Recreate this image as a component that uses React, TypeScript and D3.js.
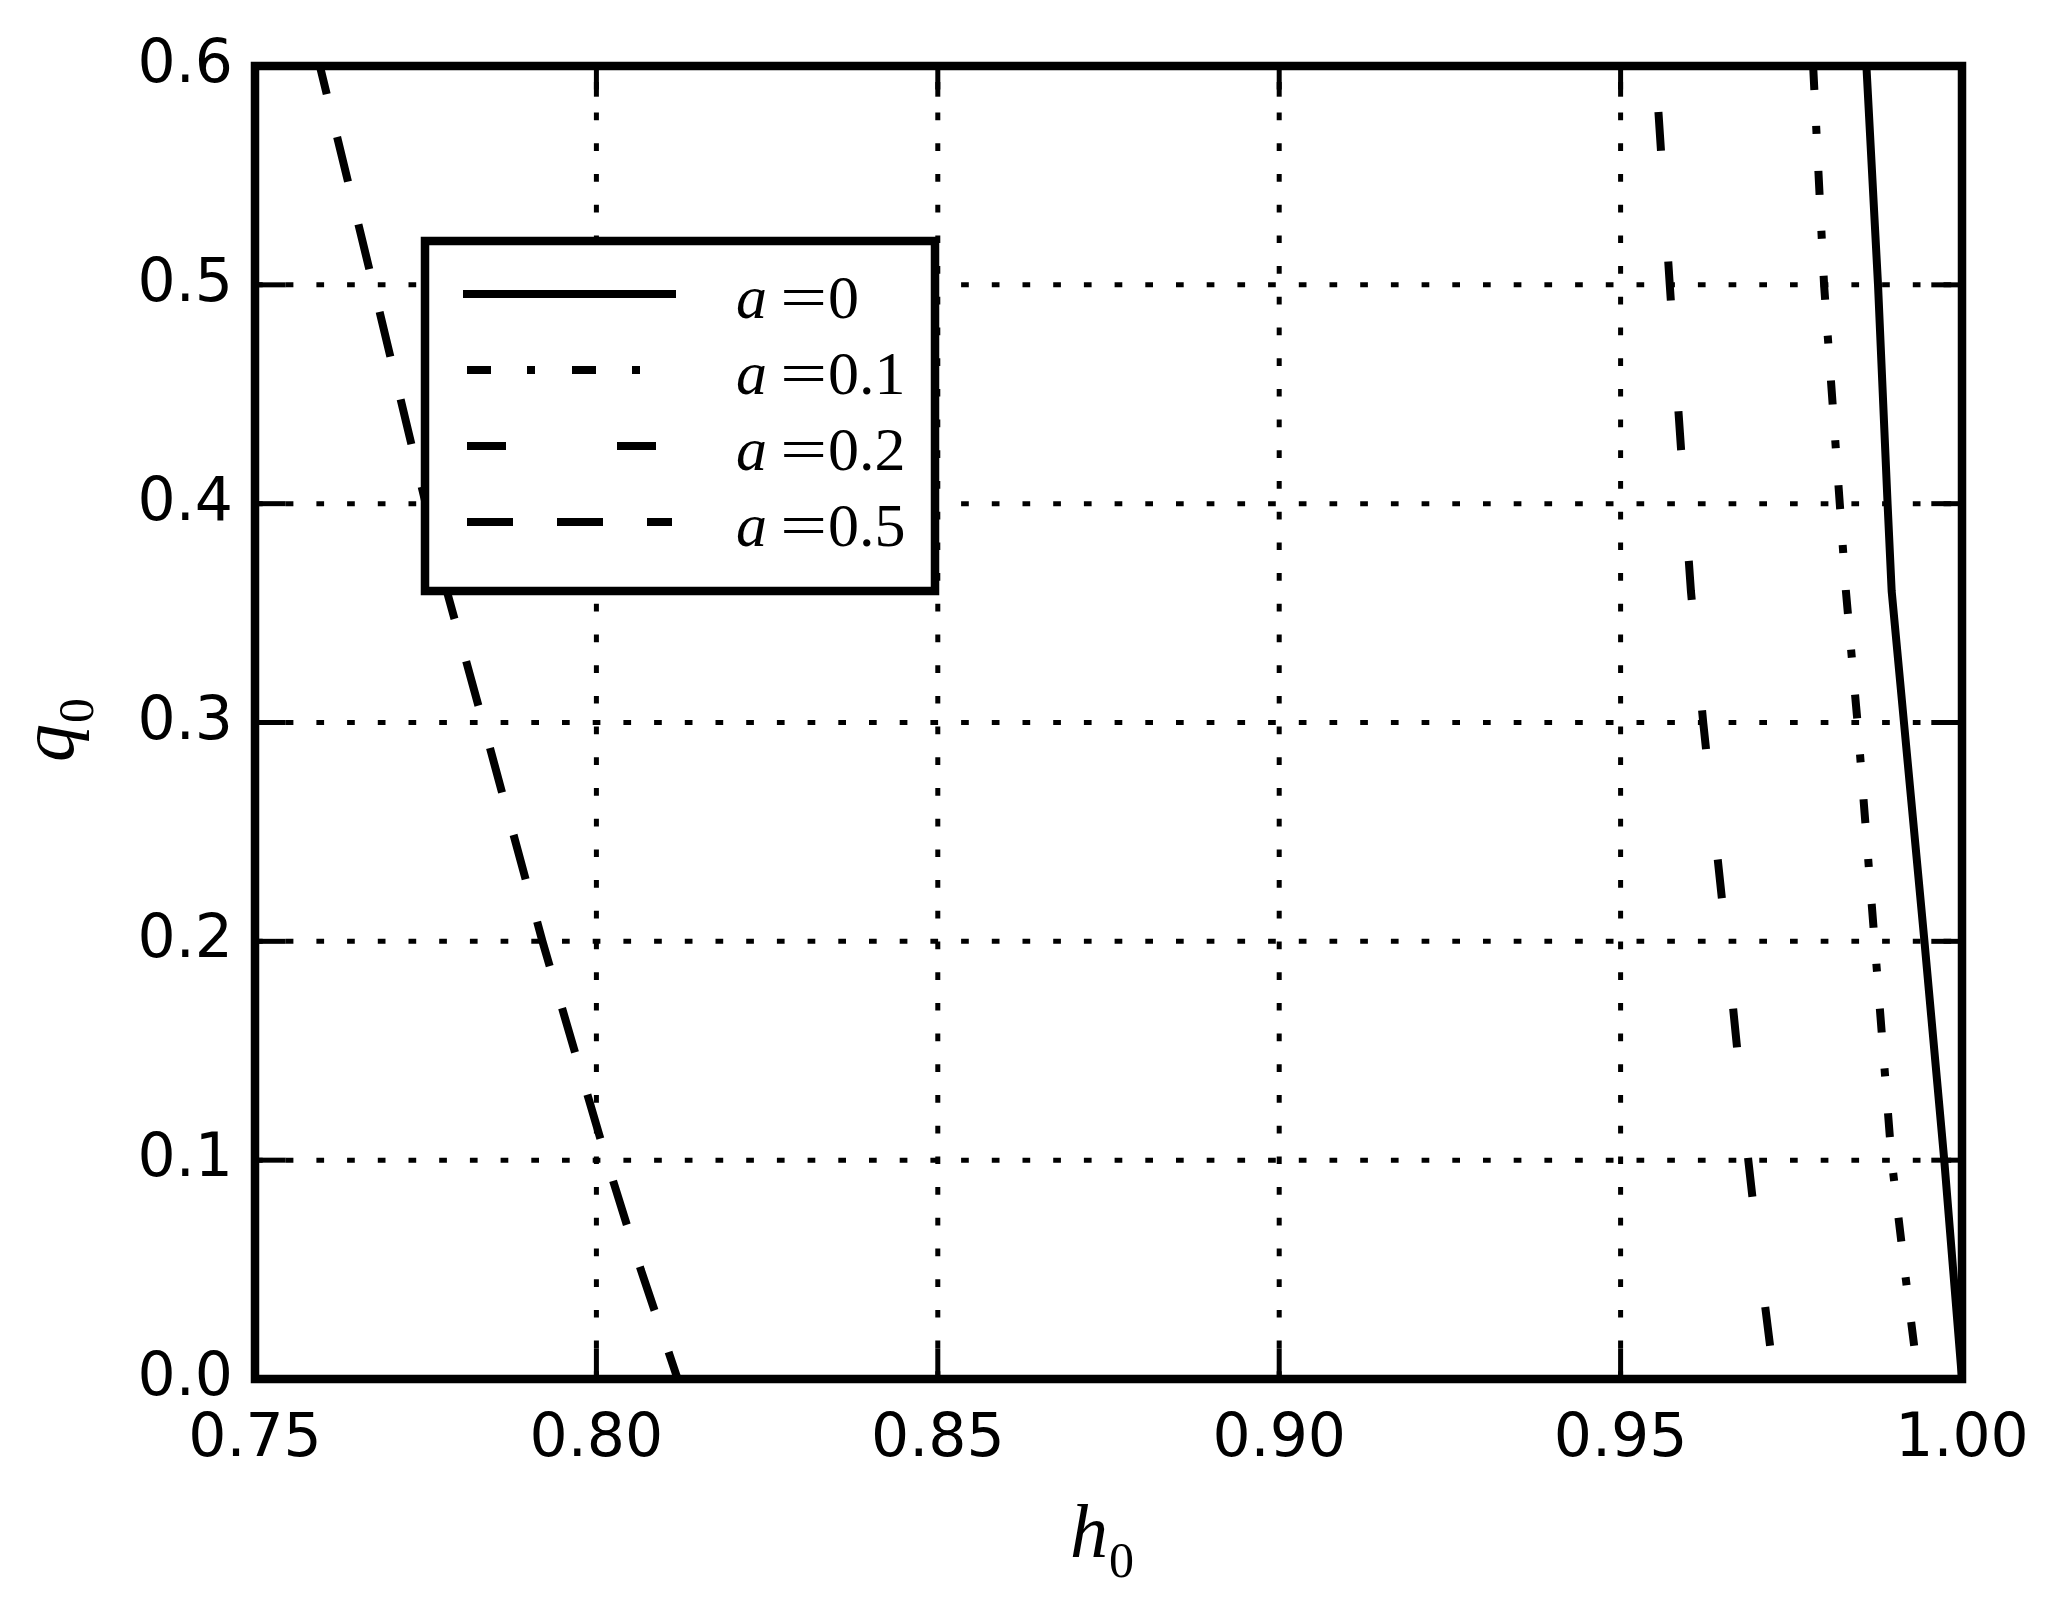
import React from "react";
import * as d3 from "d3";

// ---- data ----
const H_TICKS = [0.75, 0.8, 0.85, 0.9, 0.95, 1.0];
const Q_TICKS = [0.0, 0.1, 0.2, 0.3, 0.4, 0.5, 0.6];
const Q_VALUES = [0.6, 0.5, 0.4, 0.36, 0.3, 0.2, 0.1, 0.05, 0.0];
const H_A0 = [0.986, 0.9877, 0.9891, 0.9897, 0.9915, 0.9945, 0.9974, 0.9987, 1.0];
const H_A01 = [0.9782, 0.9798, 0.9821, 0.983, 0.9847, 0.9872, 0.9897, 0.9916, 0.9936];
const H_A02 = [0.9551, 0.9572, 0.9594, 0.9603, 0.9621, 0.9655, 0.9687, 0.9705, 0.9725];
const H_A05 = [0.7595, 0.7673, 0.775, 0.7781, 0.7834, 0.7921, 0.8015, 0.8065, 0.8119];
const A_LABELS = ["0", "0.1", "0.2", "0.5"];

const SERIES = [
  { label: A_LABELS[0], h: H_A0, dash: "none", offset: 0 },
  { label: A_LABELS[1], h: H_A01, dash: "24,36,8,37", offset: 0 },
  { label: A_LABELS[2], h: H_A02, dash: "39,111", offset: 104 },
  { label: A_LABELS[3], h: H_A05, dash: "46,44", offset: 17 },
];

const W = 2059;
const H = 1603;
const L = 255, R = 1962, T = 66, B = 1379;

export default function App() {
  const x = d3.scaleLinear().domain([0.75, 1.0]).range([L, R]);
  const y = d3.scaleLinear().domain([0, 0.6]).range([B, T]);
  const line = d3
    .line<[number, number]>()
    .x((d) => x(d[0]))
    .y((d) => y(d[1]));

  const tickFont = { fontFamily: "DejaVu Sans", fontSize: 60 };
  const tickLen = 30.7;

  // legend geometry
  const legX = 425, legY = 241, legW = 510, legH = 350;
  const rowY0 = 294, rowStep = 76;
  const sx0 = 467, sx1 = 672;

  return (
    <svg
      width={W}
      height={H}
      style={{ position: "absolute", left: 0, top: 0, background: "#fff" }}
    >
      <rect x={0} y={0} width={W} height={H} fill="#fff" />
      <defs>
        <clipPath id="plotclip">
          <rect x={L} y={T} width={R - L} height={B - T} />
        </clipPath>
      </defs>

      {/* grid */}
      <g stroke="#000" strokeWidth={5} strokeDasharray="7.7,23" fill="none">
        {H_TICKS.map((t) => (
          <path key={"gx" + t} d={`M${x(t)},${B}L${x(t)},${T}`} />
        ))}
        {Q_TICKS.map((t) => (
          <path key={"gy" + t} d={`M${L},${y(t)}L${R},${y(t)}`} />
        ))}
      </g>

      {/* curves */}
      <g clipPath="url(#plotclip)" fill="none" stroke="#000" strokeWidth={8}>
        {SERIES.map((s) => (
          <path
            key={s.label}
            d={line(Q_VALUES.map((q, i) => [s.h[i], q] as [number, number])) || ""}
            strokeDasharray={s.dash}
            strokeDashoffset={s.offset}
            strokeLinecap={s.dash === "none" ? "square" : "butt"}
          />
        ))}
      </g>

      {/* ticks */}
      <g stroke="#000" strokeWidth={5}>
        {H_TICKS.map((t) => (
          <g key={"tx" + t}>
            <line x1={x(t)} x2={x(t)} y1={B} y2={B - tickLen} />
            <line x1={x(t)} x2={x(t)} y1={T} y2={T + tickLen} />
          </g>
        ))}
        {Q_TICKS.map((t) => (
          <g key={"ty" + t}>
            <line x1={L} x2={L + tickLen} y1={y(t)} y2={y(t)} />
            <line x1={R} x2={R - tickLen} y1={y(t)} y2={y(t)} />
          </g>
        ))}
      </g>

      {/* spines */}
      <rect x={L} y={T} width={R - L} height={B - T} fill="none" stroke="#000" strokeWidth={8.5} />

      {/* tick labels */}
      <g {...tickFont} fill="#000">
        {H_TICKS.map((t) => (
          <text key={"lx" + t} x={x(t)} y={B + 77} textAnchor="middle">
            {t.toFixed(2)}
          </text>
        ))}
        {Q_TICKS.map((t) => (
          <text key={"ly" + t} x={L - 22} y={y(t) + 16} textAnchor="end">
            {t.toFixed(1)}
          </text>
        ))}
      </g>

      {/* axis labels */}
      <text x={1102} y={1557} textAnchor="middle" fontFamily="Liberation Serif" fontSize={76}>
        <tspan fontStyle="italic">h</tspan>
        <tspan fontSize={50} dx={1} dy={20}>0</tspan>
      </text>
      <text
        transform="translate(73,730) rotate(-90)"
        textAnchor="middle"
        fontFamily="Liberation Serif"
        fontSize={76}
      >
        <tspan fontStyle="italic">q</tspan>
        <tspan fontSize={50} dx={1} dy={20}>0</tspan>
      </text>

      {/* legend */}
      <rect x={legX} y={legY} width={legW} height={legH} fill="#fff" stroke="#000" strokeWidth={8.5} />
      {SERIES.map((s, i) => {
        const ry = rowY0 + i * rowStep;
        const by = ry + 24;
        return (
          <g key={"leg" + s.label} fill="#000" fontFamily="Liberation Serif" fontSize={62}>
            <line
              x1={sx0}
              x2={sx1}
              y1={ry}
              y2={ry}
              stroke="#000"
              strokeWidth={8}
              strokeDasharray={s.dash}
              strokeLinecap={s.dash === "none" ? "square" : "butt"}
            />
            <text x={736} y={by} fontStyle="italic">a</text>
            <text transform={`translate(780,${by}) scale(1.35,1)`} x={0} y={0}>=</text>
            <text x={828} y={by}>{s.label}</text>
          </g>
        );
      })}
    </svg>
  );
}
